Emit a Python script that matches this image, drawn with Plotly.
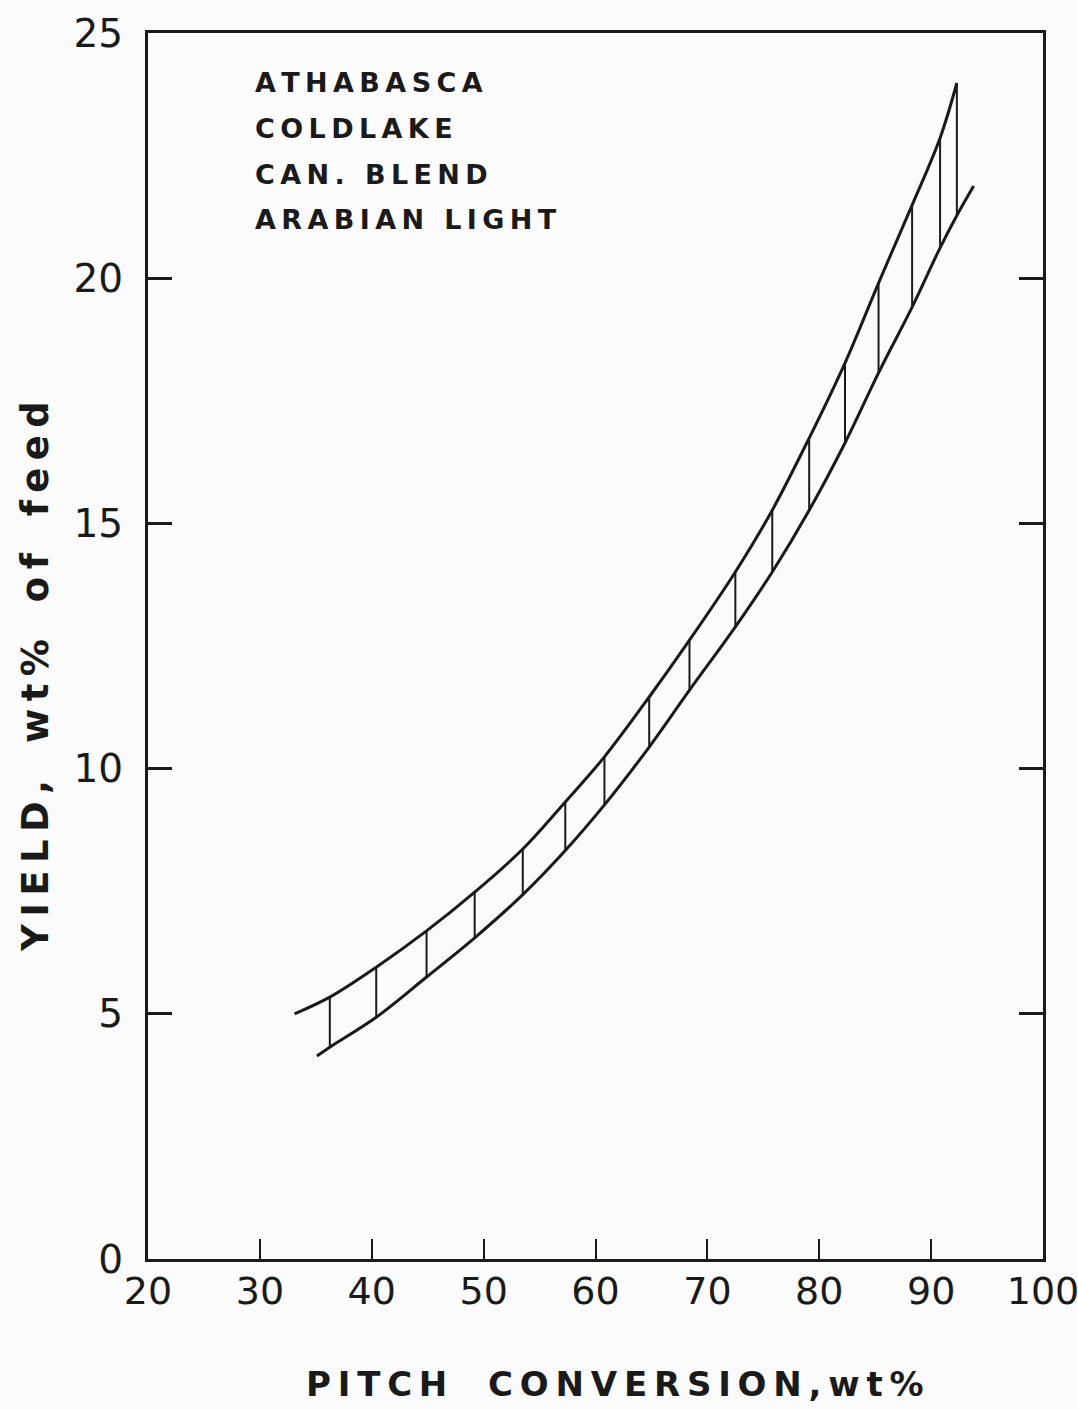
import plotly.graph_objects as go

# Pitch conversion (wt%) at which the vertical bars join the two bounding curves
rung_x = [36.25, 40.4, 44.9, 49.2, 53.5, 57.3, 60.8, 64.8, 68.4, 72.5,
          75.8, 79.1, 82.3, 85.3, 88.3, 90.8, 92.3]
# Upper bounding curve yields (wt% of feed) at the bar positions
upper_y = [5.34, 5.95, 6.69, 7.48, 8.36, 9.32, 10.24, 11.46, 12.62, 14.01,
           15.27, 16.74, 18.27, 19.90, 21.49, 22.86, 23.98]
# Lower bounding curve yields at the bar positions
lower_y = [4.32, 4.93, 5.75, 6.55, 7.43, 8.33, 9.26, 10.44, 11.60, 12.89,
           14.01, 15.27, 16.64, 18.07, 19.41, 20.62, 21.28]

# Curve ends that extend past the first / last bar
upper_start = (33.1, 5.0)
lower_start = (35.1, 4.14)
lower_end = (93.8, 21.88)

crudes = ["ATHABASCA", "COLDLAKE", "CAN. BLEND", "ARABIAN LIGHT"]
x_ticks = [20, 30, 40, 50, 60, 70, 80, 90, 100]
y_ticks = [0, 5, 10, 15, 20, 25]

THIN = "\u2009"
EM = "\u2003"


def spaced(s):
    """Open up the lettering a little, like stencilled drafting text."""
    return THIN.join(s)


ink = "#1a1a1a"
font = "DejaVu Sans"

# plot-area edges in pixels
L, R, T, B = 148, 1043, 33, 1259


def dom_x(px):
    return (px - L) / (R - L)


def dom_y(py):
    return 1 - (py - T) / (B - T)


ux = [upper_start[0]] + rung_x
uy = [upper_start[1]] + upper_y
lx = [lower_start[0]] + rung_x + [lower_end[0]]
ly = [lower_start[1]] + lower_y + [lower_end[1]]

bar_x, bar_y = [], []
for x, lo, hi in zip(rung_x, lower_y, upper_y):
    bar_x += [x, x, None]
    bar_y += [lo, hi, None]

fig = go.Figure()
fig.add_trace(go.Scatter(x=bar_x, y=bar_y, mode="lines",
                         line=dict(color=ink, width=2), hoverinfo="skip"))
fig.add_trace(go.Scatter(x=ux, y=uy, mode="lines",
                         line=dict(color=ink, width=3, shape="spline", smoothing=1.0)))
fig.add_trace(go.Scatter(x=lx, y=ly, mode="lines",
                         line=dict(color=ink, width=3, shape="spline", smoothing=1.0)))

# Crude list in the upper-left corner
for i, name in enumerate(crudes):
    fig.add_annotation(x=dom_x(253), y=dom_y(83 + i * 45.5),
                       xref="x domain", yref="y domain",
                       text="<b>" + spaced(name) + "</b>", showarrow=False,
                       xanchor="left", yanchor="middle",
                       font=dict(family=font, size=27, color=ink))

# Axis titles
x_title = spaced("PITCH") + EM + THIN + spaced("CONVERSION") + THIN + "," + THIN + spaced("wt%")
fig.add_annotation(x=dom_x(615), y=dom_y(1384), xref="x domain", yref="y domain",
                   xanchor="center", yanchor="middle",
                   showarrow=False, text="<b>" + x_title + "</b>",
                   font=dict(family=font, size=34, color=ink))

y_title = (spaced("YIELD") + THIN + "," + EM + spaced("wt%") + EM
           + spaced("of") + EM + spaced("feed"))
fig.add_annotation(x=dom_x(35), y=dom_y(677), xref="x domain", yref="y domain",
                   xanchor="center", yanchor="middle",
                   showarrow=False, textangle=-90, text="<b>" + y_title + "</b>",
                   font=dict(family=font, size=37, color=ink))

fig.update_layout(
    width=1078, height=1409,
    margin=dict(l=L, r=1078 - R, t=T, b=1409 - B),
    paper_bgcolor="#fbfbfb", plot_bgcolor="#fbfbfb",
    showlegend=False,
    font=dict(family=font, color=ink),
    xaxis=dict(range=[20, 100], tickvals=x_ticks, ticks="inside", ticklen=20,
               tickwidth=2, tickcolor=ink, showline=True, linewidth=3, linecolor=ink,
               mirror=True, showgrid=False, zeroline=False, automargin=False,
               ticklabeloverflow="allow", ticklabelstandoff=-4,
               tickfont=dict(family=font, size=38, color=ink)),
    yaxis=dict(range=[0, 25], tickvals=y_ticks, ticks="inside", ticklen=24,
               tickwidth=3, tickcolor=ink, showline=True, linewidth=3, linecolor=ink,
               mirror="ticks", showgrid=False, zeroline=False, automargin=False,
               ticklabelstandoff=14,
               tickfont=dict(family=font, size=39, color=ink)),
)

fig.write_html("out.html")
